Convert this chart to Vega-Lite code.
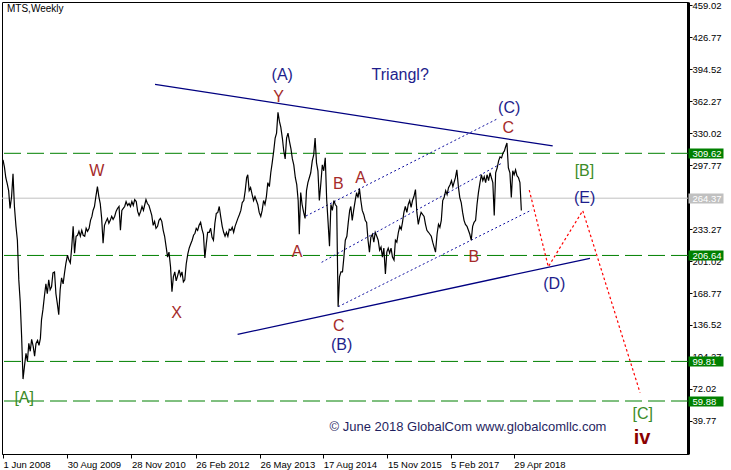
{
"$schema": "https://vega.github.io/schema/vega-lite/v6.json",
"width": 686, "height": 452,
"autosize": {"type": "none"},
"padding": {"left": 2, "top": 2, "right": 43, "bottom": 16},
"background": "white",
"title": {"text": "MTS,Weekly", "anchor": "start", "frame": "group", "offset": -14, "dx": 5, "fontSize": 10, "fontWeight": "normal", "color": "black", "font": "Liberation Sans"},
"datasets": {
"levels": [{"v": 309.62}, {"v": 206.64}, {"v": 99.81}, {"v": 59.88}],
"current": [{"v": 264.37}],
"trend": [
{"s":"u","d":"2011-05-14","v":379.2},{"s":"u","d":"2019-01-29","v":317.0},
{"s":"l","d":"2012-12-19","v":127.1},{"s":"l","d":"2019-10-20","v":203.8}],
"chan": [
{"s":"a","d":"2014-04-17","v":246.4},{"s":"a","d":"2018-01-07","v":344.7},
{"s":"b","d":"2014-08-06","v":199.7},{"s":"b","d":"2018-02-04","v":299.8},
{"s":"c","d":"2014-12-02","v":155.0},{"s":"c","d":"2018-09-02","v":252.5}],
"proj": [{"d":"2018-08-16","v":272.6},{"d":"2018-12-29","v":195.3},{"d":"2019-08-30","v":251.8},{"d":"2020-10-09","v":68.3}],
"labels": [
{"t":"W","g":"m","d":"2010-03-27","v":286.7},
{"t":"X","g":"m","d":"2011-10-14","v":143.3},
{"t":"Y","g":"m","d":"2013-10-06","v":361.6},
{"t":"(A)","g":"i","d":"2013-10-31","v":383.6},
{"t":"Triangl?","g":"i","d":"2016-02-14","v":383.7},
{"t":"A","g":"m","d":"2014-02-14","v":205.4},
{"t":"B","g":"m","d":"2014-12-02","v":273.6},
{"t":"A","g":"m","d":"2015-05-09","v":280.0},
{"t":"C","g":"m","d":"2014-12-05","v":130.5},
{"t":"(B)","g":"i","d":"2014-12-26","v":111.4},
{"t":"B","g":"m","d":"2017-07-19","v":199.7},
{"t":"(C)","g":"i","d":"2018-03-27","v":349.9},
{"t":"C","g":"m","d":"2018-03-21","v":330.4},
{"t":"[B]","g":"p","d":"2019-09-11","v":286.8},
{"t":"(E)","g":"i","d":"2019-09-12","v":259.9},
{"t":"(D)","g":"i","d":"2019-02-09","v":172.5},
{"t":"[A]","g":"p","d":"2008-10-29","v":58.3},
{"t":"[C]","g":"p","d":"2020-10-28","v":41.4}],
"degree": [{"t":"iv","d":"2020-10-23","v":16.5}],
"note": [{"t":"© June 2018 GlobalCom www.globalcomllc.com","d":"2017-06-08","v":29.2}],
"price": [
{"d":"2008-06-01","v":303},{"d":"2008-06-11","v":296},{"d":"2008-06-21","v":285},
{"d":"2008-07-01","v":279},{"d":"2008-07-11","v":272},{"d":"2008-07-21","v":254},
{"d":"2008-08-01","v":266},{"d":"2008-08-11","v":289},{"d":"2008-08-21","v":256},
{"d":"2008-09-01","v":236},{"d":"2008-09-11","v":222},{"d":"2008-09-21","v":182},
{"d":"2008-10-01","v":160},{"d":"2008-10-11","v":125},{"d":"2008-10-21","v":82},
{"d":"2008-11-01","v":96},{"d":"2008-11-11","v":108},{"d":"2008-11-21","v":100},
{"d":"2008-12-01","v":118},{"d":"2008-12-11","v":110},{"d":"2008-12-21","v":122},
{"d":"2009-01-01","v":115},{"d":"2009-01-11","v":105},{"d":"2009-01-21","v":118},
{"d":"2009-02-01","v":121},{"d":"2009-02-11","v":116},{"d":"2009-02-21","v":123},
{"d":"2009-03-01","v":142},{"d":"2009-03-11","v":152},{"d":"2009-03-21","v":165},
{"d":"2009-04-01","v":178},{"d":"2009-04-11","v":168},{"d":"2009-04-21","v":182},
{"d":"2009-05-01","v":172},{"d":"2009-05-11","v":175},{"d":"2009-05-21","v":189},
{"d":"2009-06-01","v":190},{"d":"2009-06-11","v":168},{"d":"2009-06-21","v":158},
{"d":"2009-07-01","v":147},{"d":"2009-07-11","v":172},{"d":"2009-07-21","v":184},
{"d":"2009-08-01","v":178},{"d":"2009-08-11","v":189},{"d":"2009-08-21","v":199},
{"d":"2009-09-01","v":207},{"d":"2009-09-11","v":202},{"d":"2009-09-21","v":199},
{"d":"2009-10-01","v":215},{"d":"2009-10-11","v":236},{"d":"2009-10-21","v":209},
{"d":"2009-11-01","v":226},{"d":"2009-11-11","v":227},{"d":"2009-11-21","v":231},
{"d":"2009-12-01","v":226},{"d":"2009-12-11","v":232},{"d":"2009-12-21","v":227},
{"d":"2010-01-01","v":226},{"d":"2010-01-11","v":234},{"d":"2010-01-21","v":231},
{"d":"2010-02-01","v":234},{"d":"2010-02-11","v":242},{"d":"2010-02-21","v":246},
{"d":"2010-03-01","v":252},{"d":"2010-03-11","v":256},{"d":"2010-03-21","v":266},
{"d":"2010-04-01","v":276},{"d":"2010-04-11","v":266},{"d":"2010-04-21","v":259},
{"d":"2010-05-01","v":244},{"d":"2010-05-11","v":219},{"d":"2010-05-21","v":237},
{"d":"2010-06-01","v":241},{"d":"2010-06-11","v":244},{"d":"2010-06-21","v":239},
{"d":"2010-07-01","v":242},{"d":"2010-07-11","v":246},{"d":"2010-07-21","v":243},
{"d":"2010-08-01","v":246},{"d":"2010-08-11","v":251},{"d":"2010-08-21","v":254},
{"d":"2010-09-01","v":256},{"d":"2010-09-11","v":232},{"d":"2010-09-21","v":252},
{"d":"2010-10-01","v":254},{"d":"2010-10-11","v":256},{"d":"2010-10-21","v":261},
{"d":"2010-11-01","v":257},{"d":"2010-11-11","v":259},{"d":"2010-11-21","v":256},
{"d":"2010-12-01","v":261},{"d":"2010-12-11","v":257},{"d":"2010-12-21","v":263},
{"d":"2011-01-01","v":261},{"d":"2011-01-11","v":251},{"d":"2011-01-21","v":247},
{"d":"2011-02-01","v":251},{"d":"2011-02-11","v":256},{"d":"2011-02-21","v":252},
{"d":"2011-03-01","v":257},{"d":"2011-03-11","v":263},{"d":"2011-03-21","v":259},
{"d":"2011-04-01","v":257},{"d":"2011-04-11","v":252},{"d":"2011-04-21","v":247},
{"d":"2011-05-01","v":237},{"d":"2011-05-11","v":241},{"d":"2011-05-21","v":234},
{"d":"2011-06-01","v":236},{"d":"2011-06-11","v":242},{"d":"2011-06-21","v":244},
{"d":"2011-07-01","v":241},{"d":"2011-07-11","v":232},{"d":"2011-07-21","v":226},
{"d":"2011-08-01","v":215},{"d":"2011-08-11","v":205},{"d":"2011-08-21","v":210},
{"d":"2011-09-01","v":195},{"d":"2011-09-11","v":170},{"d":"2011-09-21","v":185},
{"d":"2011-10-01","v":190},{"d":"2011-10-11","v":181},{"d":"2011-10-21","v":186},
{"d":"2011-11-01","v":192},{"d":"2011-11-11","v":186},{"d":"2011-11-21","v":190},
{"d":"2011-12-01","v":180},{"d":"2011-12-11","v":182},{"d":"2011-12-21","v":198},
{"d":"2012-01-01","v":208},{"d":"2012-01-11","v":214},{"d":"2012-01-21","v":218},
{"d":"2012-02-01","v":222},{"d":"2012-02-11","v":227},{"d":"2012-02-21","v":229},
{"d":"2012-03-01","v":234},{"d":"2012-03-11","v":232},{"d":"2012-03-21","v":237},
{"d":"2012-04-01","v":240},{"d":"2012-04-11","v":233},{"d":"2012-04-21","v":228},
{"d":"2012-05-01","v":204},{"d":"2012-05-11","v":218},{"d":"2012-05-21","v":230},
{"d":"2012-06-01","v":230},{"d":"2012-06-11","v":234},{"d":"2012-06-21","v":225},
{"d":"2012-07-01","v":222},{"d":"2012-07-11","v":239},{"d":"2012-07-21","v":249},
{"d":"2012-08-01","v":250},{"d":"2012-08-11","v":256},{"d":"2012-08-21","v":246},
{"d":"2012-09-01","v":236},{"d":"2012-09-11","v":230},{"d":"2012-09-21","v":226},
{"d":"2012-10-01","v":230},{"d":"2012-10-11","v":226},{"d":"2012-10-21","v":233},
{"d":"2012-11-01","v":232},{"d":"2012-11-11","v":235},{"d":"2012-11-21","v":230},
{"d":"2012-12-01","v":236},{"d":"2012-12-11","v":240},{"d":"2012-12-21","v":244},
{"d":"2013-01-01","v":248},{"d":"2013-01-11","v":252},{"d":"2013-01-21","v":260},
{"d":"2013-02-01","v":262},{"d":"2013-02-11","v":272},{"d":"2013-02-21","v":285},
{"d":"2013-03-01","v":288},{"d":"2013-03-11","v":272},{"d":"2013-03-21","v":275},
{"d":"2013-04-01","v":268},{"d":"2013-04-11","v":262},{"d":"2013-04-21","v":266},
{"d":"2013-05-01","v":262},{"d":"2013-05-11","v":258},{"d":"2013-05-21","v":250},
{"d":"2013-06-01","v":246},{"d":"2013-06-11","v":252},{"d":"2013-06-21","v":262},
{"d":"2013-07-01","v":258},{"d":"2013-07-11","v":266},{"d":"2013-07-21","v":280},
{"d":"2013-08-01","v":276},{"d":"2013-08-11","v":290},{"d":"2013-08-21","v":300},
{"d":"2013-09-01","v":312},{"d":"2013-09-11","v":325},{"d":"2013-09-21","v":330},
{"d":"2013-10-01","v":351},{"d":"2013-10-11","v":342},{"d":"2013-10-21","v":336},
{"d":"2013-11-01","v":325},{"d":"2013-11-11","v":312},{"d":"2013-11-21","v":304},
{"d":"2013-12-01","v":325},{"d":"2013-12-11","v":330},{"d":"2013-12-21","v":322},
{"d":"2014-01-01","v":314},{"d":"2014-01-11","v":304},{"d":"2014-01-21","v":298},
{"d":"2014-02-01","v":285},{"d":"2014-02-11","v":278},{"d":"2014-02-21","v":262},
{"d":"2014-03-01","v":228},{"d":"2014-03-11","v":270},{"d":"2014-03-21","v":258},
{"d":"2014-04-01","v":250},{"d":"2014-04-11","v":244},{"d":"2014-04-21","v":272},
{"d":"2014-05-01","v":280},{"d":"2014-05-11","v":285},{"d":"2014-05-21","v":290},
{"d":"2014-06-01","v":302},{"d":"2014-06-11","v":308},{"d":"2014-06-21","v":325},
{"d":"2014-07-01","v":300},{"d":"2014-07-11","v":292},{"d":"2014-07-21","v":262},
{"d":"2014-08-01","v":280},{"d":"2014-08-11","v":298},{"d":"2014-08-21","v":292},
{"d":"2014-09-01","v":305},{"d":"2014-09-11","v":263},{"d":"2014-09-21","v":240},
{"d":"2014-10-01","v":216},{"d":"2014-10-11","v":258},{"d":"2014-10-21","v":252},
{"d":"2014-11-01","v":262},{"d":"2014-11-11","v":258},{"d":"2014-11-21","v":256},
{"d":"2014-12-01","v":155},{"d":"2014-12-11","v":185},{"d":"2014-12-21","v":190},
{"d":"2015-01-01","v":190},{"d":"2015-01-11","v":205},{"d":"2015-01-21","v":222},
{"d":"2015-02-01","v":226},{"d":"2015-02-11","v":240},{"d":"2015-02-21","v":252},
{"d":"2015-03-01","v":256},{"d":"2015-03-11","v":242},{"d":"2015-03-21","v":252},
{"d":"2015-04-01","v":262},{"d":"2015-04-11","v":270},{"d":"2015-04-21","v":265},
{"d":"2015-05-01","v":274},{"d":"2015-05-11","v":262},{"d":"2015-05-21","v":252},
{"d":"2015-06-01","v":248},{"d":"2015-06-11","v":242},{"d":"2015-06-21","v":240},
{"d":"2015-07-01","v":222},{"d":"2015-07-11","v":210},{"d":"2015-07-21","v":225},
{"d":"2015-08-01","v":228},{"d":"2015-08-11","v":220},{"d":"2015-08-21","v":230},
{"d":"2015-09-01","v":226},{"d":"2015-09-11","v":222},{"d":"2015-09-21","v":212},
{"d":"2015-10-01","v":215},{"d":"2015-10-11","v":205},{"d":"2015-10-21","v":214},
{"d":"2015-11-01","v":188},{"d":"2015-11-11","v":210},{"d":"2015-11-21","v":214},
{"d":"2015-12-01","v":209},{"d":"2015-12-11","v":214},{"d":"2015-12-21","v":205},
{"d":"2016-01-01","v":202},{"d":"2016-01-11","v":222},{"d":"2016-01-21","v":220},
{"d":"2016-02-01","v":230},{"d":"2016-02-11","v":236},{"d":"2016-02-21","v":233},
{"d":"2016-03-01","v":240},{"d":"2016-03-11","v":250},{"d":"2016-03-21","v":256},
{"d":"2016-04-01","v":250},{"d":"2016-04-11","v":258},{"d":"2016-04-21","v":262},
{"d":"2016-05-01","v":255},{"d":"2016-05-11","v":262},{"d":"2016-05-21","v":266},
{"d":"2016-06-01","v":273},{"d":"2016-06-11","v":250},{"d":"2016-06-21","v":238},
{"d":"2016-07-01","v":245},{"d":"2016-07-11","v":250},{"d":"2016-07-21","v":248},
{"d":"2016-08-01","v":246},{"d":"2016-08-11","v":238},{"d":"2016-08-21","v":232},
{"d":"2016-09-01","v":230},{"d":"2016-09-11","v":228},{"d":"2016-09-21","v":226},
{"d":"2016-10-01","v":220},{"d":"2016-10-11","v":215},{"d":"2016-10-21","v":210},
{"d":"2016-11-01","v":228},{"d":"2016-11-11","v":238},{"d":"2016-11-21","v":235},
{"d":"2016-12-01","v":242},{"d":"2016-12-11","v":262},{"d":"2016-12-21","v":265},
{"d":"2017-01-01","v":272},{"d":"2017-01-11","v":268},{"d":"2017-01-21","v":275},
{"d":"2017-02-01","v":278},{"d":"2017-02-11","v":282},{"d":"2017-02-21","v":276},
{"d":"2017-03-01","v":280},{"d":"2017-03-11","v":285},{"d":"2017-03-21","v":293},
{"d":"2017-04-01","v":276},{"d":"2017-04-11","v":265},{"d":"2017-04-21","v":260},
{"d":"2017-05-01","v":250},{"d":"2017-05-11","v":242},{"d":"2017-05-21","v":238},
{"d":"2017-06-01","v":236},{"d":"2017-06-11","v":232},{"d":"2017-06-21","v":228},
{"d":"2017-07-01","v":222},{"d":"2017-07-11","v":236},{"d":"2017-07-21","v":240},
{"d":"2017-08-01","v":242},{"d":"2017-08-11","v":258},{"d":"2017-08-21","v":270},
{"d":"2017-09-01","v":280},{"d":"2017-09-11","v":288},{"d":"2017-09-21","v":282},
{"d":"2017-10-01","v":286},{"d":"2017-10-11","v":280},{"d":"2017-10-21","v":288},
{"d":"2017-11-01","v":282},{"d":"2017-11-11","v":290},{"d":"2017-11-21","v":285},
{"d":"2017-12-01","v":280},{"d":"2017-12-11","v":247},{"d":"2017-12-21","v":290},
{"d":"2018-01-01","v":295},{"d":"2018-01-11","v":302},{"d":"2018-01-21","v":306},
{"d":"2018-02-01","v":305},{"d":"2018-02-11","v":310},{"d":"2018-02-21","v":312},
{"d":"2018-03-01","v":316},{"d":"2018-03-11","v":320},{"d":"2018-03-21","v":295},
{"d":"2018-04-01","v":290},{"d":"2018-04-11","v":265},{"d":"2018-04-21","v":292},
{"d":"2018-05-01","v":288},{"d":"2018-05-11","v":293},{"d":"2018-05-21","v":287},
{"d":"2018-06-01","v":285},{"d":"2018-06-11","v":280},{"d":"2018-06-21","v":252}
]
},
"layer": [
{
"data": {"name": "levels"},
"mark": {"type": "rule", "color": "#008000", "strokeWidth": 1, "strokeDash": [17, 6]},
"encoding": {
"y": {"field": "v", "type": "quantitative", "title": null,
"axis": {"orient": "right", "values": [309.62, 264.37, 206.64, 99.81, 59.88], "format": ".2f", "domain": false, "grid": false, "title": null,
"tickSize": 35, "tickWidth": 10, "tickColor": {"condition": {"test": "datum.value == 264.37", "value": "#c0c0c0"}, "value": "#008000"},
"labelColor": "white", "labelPadding": -31, "labelFontSize": 9.5, "labelOverlap": false, "labelBound": false, "zindex": 1}}
}
},
{
"data": {"name": "current"},
"mark": {"type": "rule", "color": "#c0c0c0", "strokeWidth": 1},
"encoding": {"y": {"field": "v", "type": "quantitative", "axis": null}}
},
{
"data": {"name": "trend"},
"mark": {"type": "line", "color": "#000080", "strokeWidth": 1.3},
"encoding": {
"x": {"field": "d", "type": "temporal", "axis": null, "scale": {"type": "utc"}},
"y": {"field": "v", "type": "quantitative", "axis": null},
"detail": {"field": "s"}
}
},
{
"data": {"name": "chan"},
"mark": {"type": "line", "color": "#1010a0", "strokeWidth": 1, "strokeDash": [2, 2.5]},
"encoding": {
"x": {"field": "d", "type": "temporal", "axis": null, "scale": {"type": "utc"}},
"y": {"field": "v", "type": "quantitative", "axis": null},
"detail": {"field": "s"}
}
},
{
"data": {"name": "price"},
"mark": {"type": "line", "color": "black", "strokeWidth": 1.2},
"encoding": {
"x": {"field": "d", "type": "temporal", "title": null,
"scale": {"type": "utc", "domain": [{"year": 2008, "month": 5, "date": 25, "utc": true}, {"year": 2021, "month": 9, "date": 13, "hours": 14, "utc": true}]},
"axis": {"orient": "bottom", "values": [1212278400000, 1251590400000, 1290902400000, 1330214400000, 1369526400000, 1408233600000, 1447545600000, 1486252800000, 1524960000000],
"labelExpr": "utcFormat(datum.value, '%-d %b %Y')", "title": null, "grid": false,
"labelAlign": "left", "labelBaseline": "top", "labelPadding": 1, "tickSize": 4,
"domainColor": "black", "tickColor": "black", "labelColor": "black", "labelFontSize": 9.5,
"labelFlush": false, "labelOverlap": false, "labelBound": false, "zindex": 1}},
"y": {"field": "v", "type": "quantitative", "title": null,
"scale": {"domain": [6.46, 462.16], "nice": false, "zero": false},
"axis": {"orient": "right", "values": [459.02, 426.77, 394.52, 362.27, 330.02, 297.77, 233.27, 201.02, 168.77, 136.52, 104.27, 72.02, 39.77],
"format": ".2f", "title": null, "grid": false, "domainColor": "black", "domainWidth": 3, "tickColor": "black", "tickSize": 4,
"labelPadding": 0, "labelColor": "black", "labelFontSize": 9.5, "labelOverlap": false, "labelBound": false, "zindex": 0}}
}
},
{
"data": {"name": "proj"},
"mark": {"type": "line", "color": "#ff0000", "strokeWidth": 1.2, "strokeDash": [2.5, 2.5]},
"encoding": {
"x": {"field": "d", "type": "temporal", "axis": null, "scale": {"type": "utc"}},
"y": {"field": "v", "type": "quantitative", "axis": null}
}
},
{
"data": {"name": "labels"},
"mark": {"type": "text", "align": "center", "baseline": "alphabetic", "fontSize": 16, "font": "Liberation Sans"},
"encoding": {
"x": {"field": "d", "type": "temporal", "axis": null, "scale": {"type": "utc"}},
"y": {"field": "v", "type": "quantitative", "axis": null},
"text": {"field": "t"},
"color": {"field": "g", "type": "nominal", "legend": null, "scale": {"domain": ["m", "i", "p"], "range": ["#a52a2a", "#1e1e8c", "#3c8c28"]}}
}
},
{
"data": {"name": "degree"},
"mark": {"type": "text", "align": "center", "baseline": "alphabetic", "fontSize": 20, "fontWeight": "bold", "font": "Liberation Sans", "color": "#8b0000"},
"encoding": {
"x": {"field": "d", "type": "temporal", "axis": null, "scale": {"type": "utc"}},
"y": {"field": "v", "type": "quantitative", "axis": null},
"text": {"field": "t"}
}
},
{
"data": {"name": "note"},
"mark": {"type": "text", "align": "center", "baseline": "alphabetic", "fontSize": 13, "font": "Liberation Sans", "color": "#1f1f5f"},
"encoding": {
"x": {"field": "d", "type": "temporal", "axis": null, "scale": {"type": "utc"}},
"y": {"field": "v", "type": "quantitative", "axis": null},
"text": {"field": "t"}
}
}
],
"resolve": {"axis": {"x": "independent", "y": "independent"}},
"config": {
"font": "Liberation Sans",
"view": {"stroke": "black", "strokeWidth": 1},
"axis": {"grid": false, "labelFont": "Liberation Sans"}
}
}
